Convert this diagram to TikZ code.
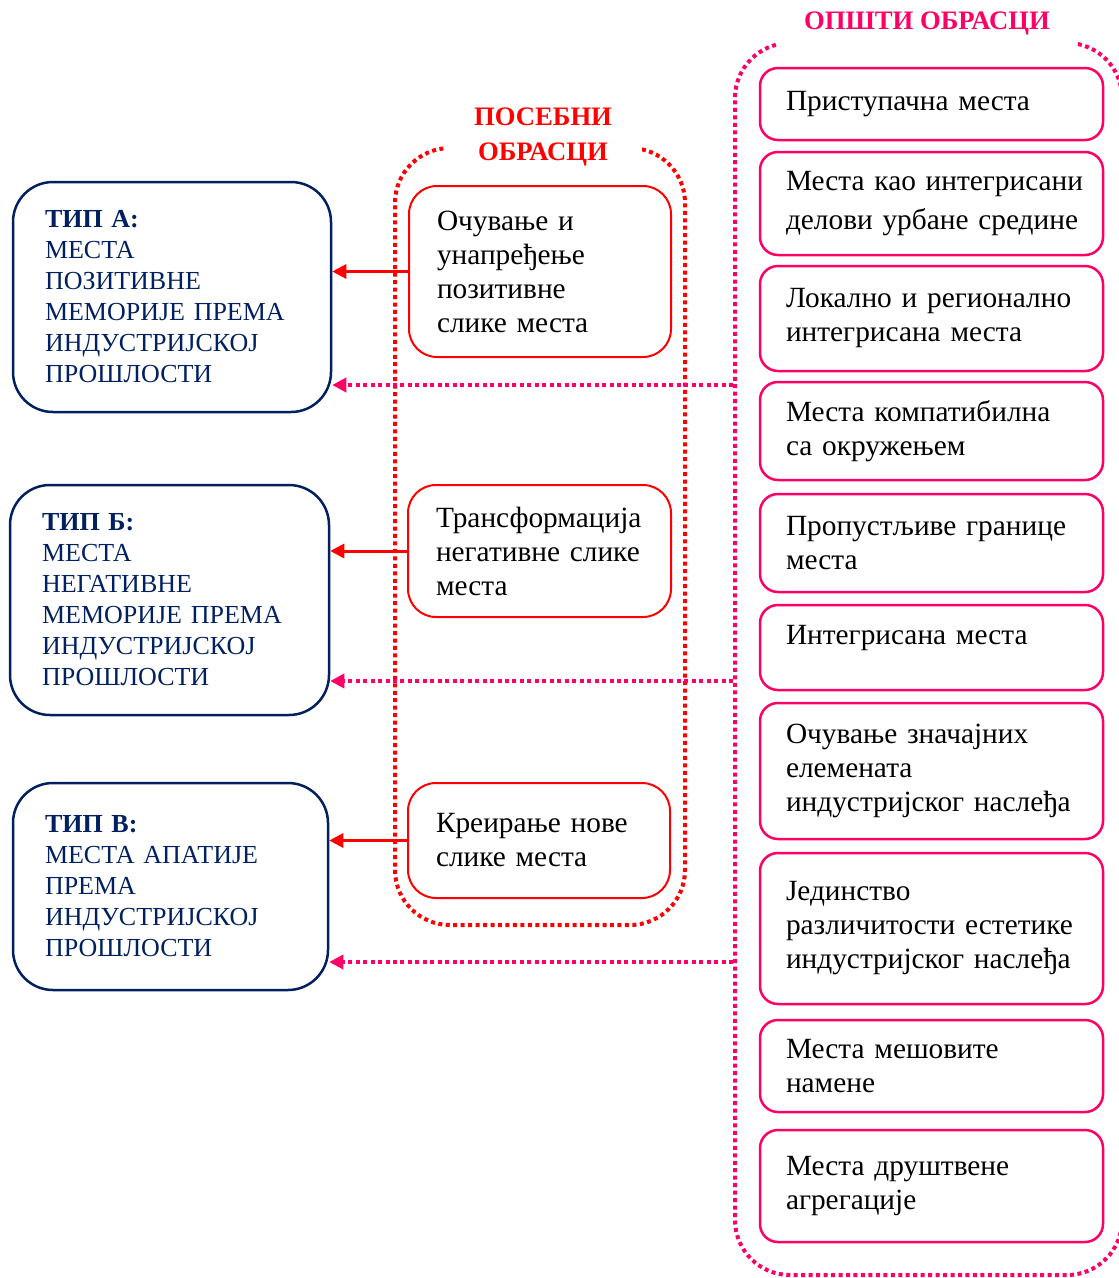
\documentclass[tikz,border=0pt]{standalone}
\usepackage{fontspec}
\setmainfont{Liberation Serif}
\usetikzlibrary{arrows.meta}
\definecolor{navyc}{HTML}{002060}
\definecolor{pinkc}{HTML}{FF0066}
\definecolor{redc}{HTML}{FF0000}
\newdimen\px \px=0.75pt
\begin{document}
\begin{tikzpicture}[x=0.75pt,y=-0.75pt,
  leftbox/.style n args={2}{draw=navyc, line width=2.5\px, rounded corners=40\px,
    text=navyc, align=left, inner xsep=32\px, inner ysep=0pt,
    text width=#1\px, minimum height=#2\px,
    font=\fontsize{19.5}{23.25}\selectfont},
  midbox/.style n args={2}{draw=redc, line width=2\px, rounded corners=28\px,
    text=black, align=left, inner xsep=28\px, inner ysep=0pt,
    text width=#1\px, minimum height=#2\px,
    font=\fontsize{22}{25.5}\selectfont},
  genbox/.style={draw=pinkc, line width=2.5\px, rounded corners=18\px,
    text=black, align=left, inner xsep=26\px, inner ysep=0pt,
    text width=291\px, minimum height=#1\px,
    font=\fontsize{22}{25.5}\selectfont},
  midframe/.style={draw=redc, line width=3pt, dash pattern=on 3pt off 2.6pt,
    rounded corners=55\px, inner sep=0pt},
  genframe/.style={draw=pinkc, line width=3pt, dash pattern=on 3pt off 2.6pt,
    rounded corners=55\px, inner sep=0pt},
  titlebox/.style={fill=white, align=center, inner sep=0pt,
    font=\fontsize{20}{26.25}\selectfont\bfseries},
  redarrow/.style={draw=redc, line width=3\px, -{Triangle[length=10.5pt,width=10.5pt]}},
  pinkarrow/.style={draw=pinkc, line width=3pt, dash pattern=on 3pt off 2.6pt,
    -{Triangle[length=10.5pt,width=10.5pt]}}
]
\useasboundingbox (0,0) rectangle (1119,1278);

% containers
\node[midframe, minimum width=290\px, minimum height=777\px] (posframe) at (540,536.5) {};
\node[genframe, minimum width=387\px, minimum height=1232\px] (genframe) at (928.5,659) {};

% titles
\node[titlebox, text=redc, minimum width=198\px, minimum height=70\px] (postitle) at (543,137.5) {ПОСЕБНИ\\ОБРАСЦИ};
\node[titlebox, text=pinkc, minimum width=299\px, minimum height=48\px] (gentitle) at (927,24) {ОПШТИ ОБРАСЦИ};

% left boxes
\node[leftbox={254}{230}] (ta) at (172,297) {\textbf{ТИП А:}\\МЕСТА\\ПОЗИТИВНЕ\\\mbox{МЕМОРИЈЕ ПРЕМА}\\ИНДУСТРИЈСКОЈ\\ПРОШЛОСТИ};
\node[leftbox={255}{230}] (tb) at (169.5,600) {\textbf{ТИП Б:}\\МЕСТА\\НЕГАТИВНЕ\\\mbox{МЕМОРИЈЕ ПРЕМА}\\ИНДУСТРИЈСКОЈ\\ПРОШЛОСТИ};
\node[leftbox={251}{207}] (tv) at (170.5,886.5) {\textbf{ТИП В:}\\\mbox{МЕСТА АПАТИЈЕ}\\ПРЕМА\\ИНДУСТРИЈСКОЈ\\ПРОШЛОСТИ};

% middle boxes
\node[midbox={206}{171}] (m1) at (540,271.5) {Очување и\\унапређење\\позитивне\\\mbox{слике места}};
\node[midbox={207}{132}] (m2) at (539.5,551) {Трансформација\\\mbox{негативне слике}\\места};
\node[midbox={206}{115}] (m3) at (539,840.5) {\mbox{Креирање нове}\\\mbox{слике места}};

% right boxes
\node[genbox=72]  (g1)  at (931.5,104)   {\mbox{Приступачна места}};
\node[genbox=103] (g2)  at (931.5,203.5) {\mbox{Места као интегрисани}\\[3.75pt]\mbox{делови урбане средине}};
\node[genbox=105] (g3)  at (931.5,318.5) {\mbox{Локално и регионално}\\\mbox{интегрисана места}};
\node[genbox=98]  (g4)  at (931.5,431)   {\mbox{Места компатибилна}\\\mbox{са окружењем}};
\node[genbox=98]  (g5)  at (931.5,543)   {\mbox{Пропустљиве границе}\\места};
\node[genbox=85]  (g6)  at (931.5,647.5) {\mbox{Интегрисана места}\par\vspace{13.5pt}};
\node[genbox=136] (g7)  at (931.5,771)   {\mbox{Очување значајних}\\елемената\\\mbox{индустријског наслеђа}};
\node[genbox=151] (g8)  at (931.5,928.5) {Јединство\\\mbox{различитости естетике}\\\mbox{индустријског наслеђа}};
\node[genbox=92]  (g9)  at (931.5,1066)  {\mbox{Места мешовите}\\намене};
\node[genbox=112] (g10) at (931.5,1186)  {\mbox{Места друштвене}\\агрегације};

% red arrows
\draw[redarrow] (m1.west) -- (m1.west -| ta.east);
\draw[redarrow] (m2.west) -- (m2.west -| tb.east);
\draw[redarrow] (m3.west) -- (m3.west -| tv.east);

% pink dotted arrows
\coordinate (ya) at (0,385);
\coordinate (yb) at (0,681);
\coordinate (yv) at (0,962);
\draw[pinkarrow] (genframe.west |- ya) -- (ta.east |- ya);
\draw[pinkarrow] (genframe.west |- yb) -- (tb.east |- yb);
\draw[pinkarrow] (genframe.west |- yv) -- (tv.east |- yv);
\end{tikzpicture}
\end{document}
